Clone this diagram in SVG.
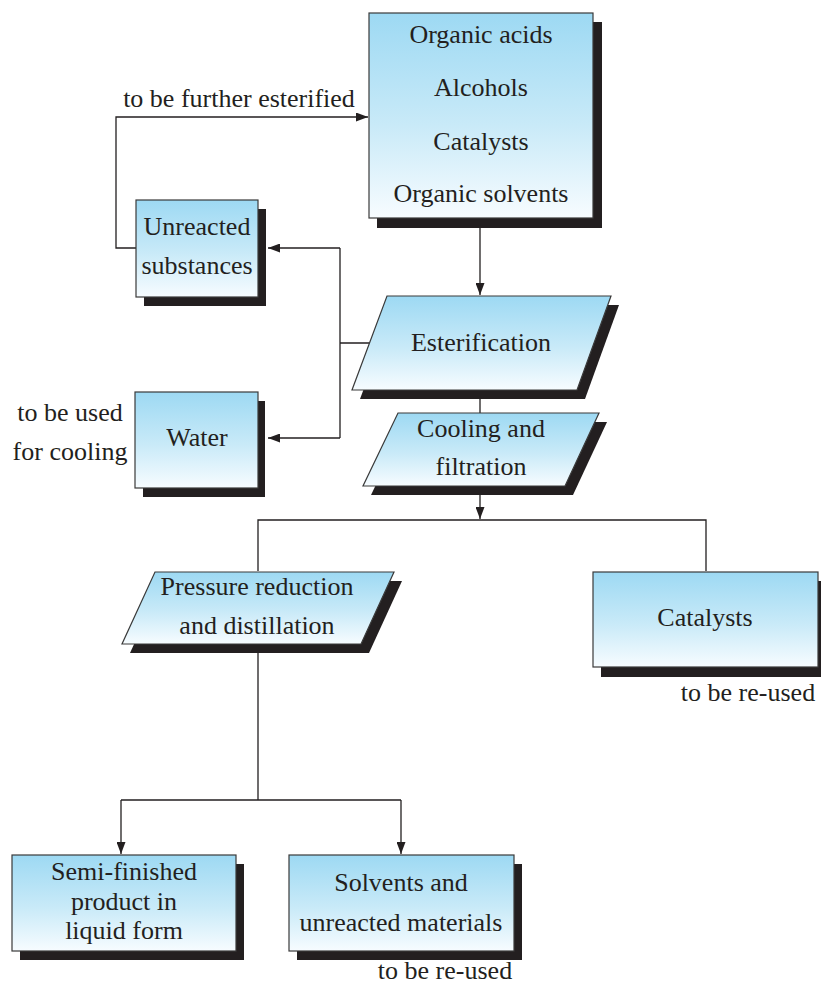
<svg xmlns="http://www.w3.org/2000/svg" width="821" height="985" viewBox="0 0 821 985">
<defs>
<linearGradient id="g" x1="0" y1="0" x2="0" y2="1">
<stop offset="0" stop-color="#9dd9f3"/>
<stop offset="0.55" stop-color="#c9eaf8"/>
<stop offset="1" stop-color="#f7fcff"/>
</linearGradient>
<marker id="ah" markerUnits="userSpaceOnUse" markerWidth="12" markerHeight="9" refX="12" refY="4.5" orient="auto">
<path d="M0,0 L12,4.5 L0,9 z" fill="#231f20"/>
</marker>
</defs>
<style>
.sh{fill:#231f20}
.bx{fill:url(#g);stroke:#3a3a3a;stroke-width:1.2}
.t{font-family:'Liberation Serif','DejaVu Serif',serif;font-size:26px;fill:#231f20;text-anchor:middle}
.c{fill:none;stroke:#231f20;stroke-width:1.3}
.a{fill:none;stroke:#231f20;stroke-width:1.3;marker-end:url(#ah)}
</style>
<rect width="821" height="985" fill="#fff"/>

<g id="connectors">
<path class="a" d="M480,218 V295"/>
<path class="c" d="M370,343 H340 M340,248 V438"/>
<path class="a" d="M340,248 H268"/>
<path class="a" d="M340,438 H268"/>
<path class="a" d="M136,248 H116 V117 H368"/>
<path class="c" d="M480,390 V413"/>
<path class="a" d="M480,486 V519"/>
<path class="c" d="M258,571 V520 H706 V571"/>
<path class="c" d="M258,643 V800 M121,800 H401"/>
<path class="a" d="M121,800 V854"/>
<path class="a" d="M401,800 V854"/>
</g>

<g id="inputs">
<rect class="sh" x="377" y="22" width="225" height="206"/>
<rect class="bx" x="369" y="13" width="224" height="205"/>
<text class="t" x="481" y="43" font-family="Liberation Serif, serif">Organic acids</text>
<text class="t" x="481" y="96" font-family="Liberation Serif, serif">Alcohols</text>
<text class="t" x="481" y="150" font-family="Liberation Serif, serif">Catalysts</text>
<text class="t" x="481" y="202" font-family="Liberation Serif, serif">Organic solvents</text>
</g>

<g id="unreacted">
<rect class="sh" x="144" y="209" width="122" height="97"/>
<rect class="bx" x="136" y="200" width="122" height="97"/>
<text class="t" x="197" y="235">Unreacted</text>
<text class="t" x="197" y="274">substances</text>
</g>

<g id="water">
<rect class="sh" x="143" y="401" width="122" height="96"/>
<rect class="bx" x="135" y="392" width="123" height="96"/>
<text class="t" x="197" y="446">Water</text>
</g>

<g id="esterification">
<polygon class="sh" points="395,305 619,305 585,399 360,399"/>
<polygon class="bx" points="387,296 611,296 577,390 352,390"/>
<text class="t" x="481" y="351">Esterification</text>
</g>

<g id="cooling">
<polygon class="sh" points="406,422 607,422 573,495 371,495"/>
<polygon class="bx" points="398,413 599,413 565,486 363,486"/>
<text class="t" x="481" y="437">Cooling and</text>
<text class="t" x="481" y="475">filtration</text>
</g>

<g id="distillation">
<polygon class="sh" points="163,581 402,581 369,653 130,653"/>
<polygon class="bx" points="155,572 394,572 361,644 122,644"/>
<text class="t" x="257" y="595">Pressure reduction</text>
<text class="t" x="257" y="634">and distillation</text>
</g>

<g id="catalysts">
<rect class="sh" x="601" y="581" width="225" height="96"/>
<rect class="bx" x="593" y="572" width="225" height="95"/>
<text class="t" x="705" y="626">Catalysts</text>
</g>

<g id="semifinished">
<rect class="sh" x="20" y="864" width="224" height="96"/>
<rect class="bx" x="12" y="855" width="224" height="96"/>
<text class="t" x="124" y="880">Semi-finished</text>
<text class="t" x="124" y="910">product in</text>
<text class="t" x="124" y="939">liquid form</text>
</g>

<g id="solvents">
<rect class="sh" x="297" y="864" width="225" height="96"/>
<rect class="bx" x="289" y="855" width="225" height="96"/>
<text class="t" x="401" y="891">Solvents and</text>
<text class="t" x="401" y="931">unreacted materials</text>
</g>

<g id="labels">
<text class="t" x="239" y="107">to be further esterified</text>
<text class="t" x="70" y="421">to be used</text>
<text class="t" x="70" y="460">for cooling</text>
<text class="t" x="748" y="701">to be re-used</text>
<text class="t" x="445" y="979">to be re-used</text>
</g>
</svg>
